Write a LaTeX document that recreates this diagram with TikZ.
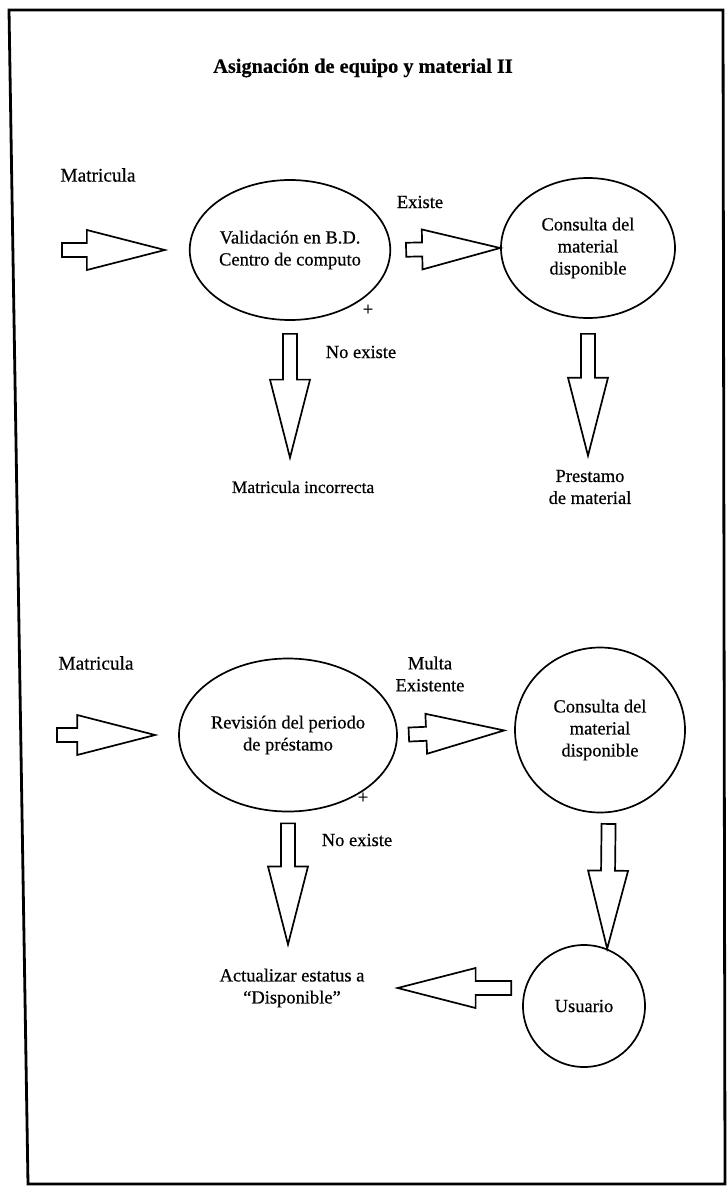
\documentclass[tikz,border=0pt]{standalone}
\usepackage{fontspec}
\setmainfont{Liberation Serif}[FakeBold=0.5]
\usetikzlibrary{calc,shapes.geometric}

\tikzset{
  proc/.style={draw, ellipse, line width=1.7pt, align=center, inner sep=0pt},
  lbl/.style={align=center, inner sep=1pt},
  % hollow block arrow between two points; #1 = gap at start, #2 = gap at tip
  blockarrow/.style 2 args={line width=1.7pt, to path={
    let \p1=(\tikztostart), \p2=(\tikztotarget),
        \n1={atan2(\y2-\y1,\x2-\x1)},
        \p3=($(\p1)+({\n1}:#1)$), \p4=($(\p2)+({\n1+180}:#2)$),
        \p5=($(\p4)+({\n1+180}:78pt)$)
    in ($(\p3)+({\n1+90}:7pt)$) -- ($(\p5)+({\n1+90}:7pt)$) -- ($(\p5)+({\n1+90}:20pt)$) -- (\p4)
       -- ($(\p5)+({\n1-90}:20pt)$) -- ($(\p5)+({\n1-90}:7pt)$) -- ($(\p3)+({\n1-90}:7pt)$) -- cycle}},
}

\begin{document}
\begin{tikzpicture}[x=1pt, y=-1pt, font=\fontsize{18.5}{22}\selectfont]
  \useasboundingbox (0,0) rectangle (727,1189);
  \draw[line width=2.8pt] (9,10) -- (723,10) -- (725,1184) -- (28,1184) -- cycle;

  \node[lbl, font=\fontsize{20.3}{24}\selectfont\bfseries] (title) at (363,68) {Asignación de equipo y material II};

  % first part
  \node[lbl, font=\fontsize{19.3}{23}\selectfont] (mat1) at (98,175) {Matricula};
  \coordinate (in1) at (62,250);
  \node[proc, minimum width=181pt, minimum height=140pt] (val) at (290,250) {Validación en B.D.\\Centro de computo};
  \node[lbl] (ex) at (420,202) {Existe};
  \node[proc, minimum width=174pt, minimum height=140pt] (cons1) at (588,248) {Consulta del\\material\\disponible};
  \node[lbl] (plus1) at (368,310) {+};
  \node[lbl] (nex1) at (361,352) {No existe};
  \node[lbl, font=\fontsize{17.5}{20}\selectfont] (inc) at (303,487) {Matricula incorrecta};
  \node[lbl] (prest) at (590,487) {Prestamo\\de material};

  \draw[blockarrow={0pt}{24pt}] (in1) to (val.west);
  \draw[blockarrow={15pt}{0pt}] (val.east) to (cons1.west);
  \draw[blockarrow={13pt}{22pt}] (val.south) to (val.south |- inc.north);
  \draw[blockarrow={15pt}{13pt}] (cons1.south) to (cons1.south |- prest.north);

  % second part
  \node[lbl, font=\fontsize{19.3}{23}\selectfont] (mat2) at (96,663) {Matricula};
  \coordinate (in2) at (57,735);
  \node[proc, minimum width=189pt, minimum height=153pt] (rev) at (288,735) {Revisión del periodo\\de préstamo};
  \node[lbl] (multa) at (430,674) {Multa\\Existente};
  \node[proc, minimum width=170pt, minimum height=165pt] (cons2) at (600,730) {Consulta del\\material\\disponible};
  \node[lbl] (plus2) at (363,798) {+};
  \node[lbl] (nex2) at (357,840) {No existe};
  \node[lbl] (act) at (292,988) {Actualizar estatus a\\``Disponible''};
  \node[proc, minimum width=122pt, minimum height=122pt] (usr) at (584,1006) {Usuario};

  \draw[blockarrow={0pt}{23pt}] (in2) to (rev.west);
  \draw[blockarrow={11pt}{10pt}] (rev.east) to (cons2.west);
  \draw[blockarrow={11pt}{23pt}] (rev.south) to (rev.south |- act.north);
  \draw[blockarrow={11pt}{0pt}] (cons2.-84) to (usr.68);
  \draw[blockarrow={11pt}{32pt}] (usr.west |- act.east) to (act.east);
\end{tikzpicture}
\end{document}
